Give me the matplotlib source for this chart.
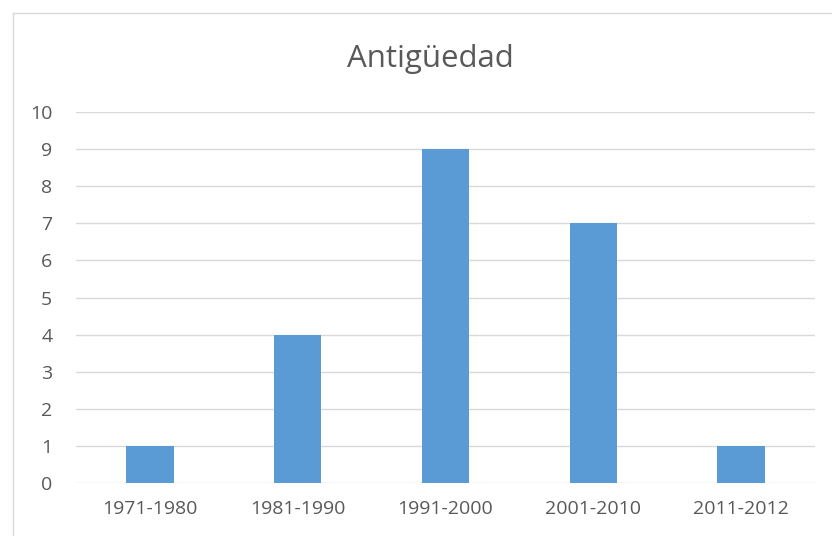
import matplotlib
matplotlib.use("Agg")
import matplotlib.pyplot as plt
from matplotlib.lines import Line2D

# datos
categorias = ["1971-1980", "1981-1990", "1991-2000", "2001-2010", "2011-2012"]
valores = [1, 4, 9, 7, 1]
ticks_y = list(range(0, 11))

plt.rcParams['font.family'] = ['Open Sans', 'DejaVu Sans']

fig = plt.figure(figsize=(8.32, 5.36), dpi=100)
ax = fig.add_axes([0.0913, 0.0989, 0.8883, 0.692])

x = range(len(categorias))
ax.bar(x, valores, width=0.32, color="#5B9BD5", zorder=3)

ax.set_xlim(-0.5, len(categorias) - 0.5)
ax.set_ylim(0, 10)
ax.set_yticks(ticks_y)
ax.set_xticks(list(x))
ax.set_xticklabels(categorias)
ax.yaxis.grid(True, color="#d9d9d9", linewidth=1, zorder=0)
for s in ax.spines.values():
    s.set_visible(False)
ax.tick_params(axis="both", length=0, labelsize=14, colors="#595959")
ax.tick_params(axis="x", pad=12)
ax.tick_params(axis="y", pad=17)

fig.text(0.517, 0.89, "Antigüedad", ha="center", va="center", fontsize=22.5, color="#595959")

# borde del gráfico
fig.add_artist(Line2D([13 / 832, 13 / 832], [0, 1 - 13 / 536], transform=fig.transFigure, color="#d9d9d9", lw=1))
fig.add_artist(Line2D([13 / 832, 1], [1 - 13 / 536, 1 - 13 / 536], transform=fig.transFigure, color="#d9d9d9", lw=1))

fig.savefig("out.png", dpi=100)
